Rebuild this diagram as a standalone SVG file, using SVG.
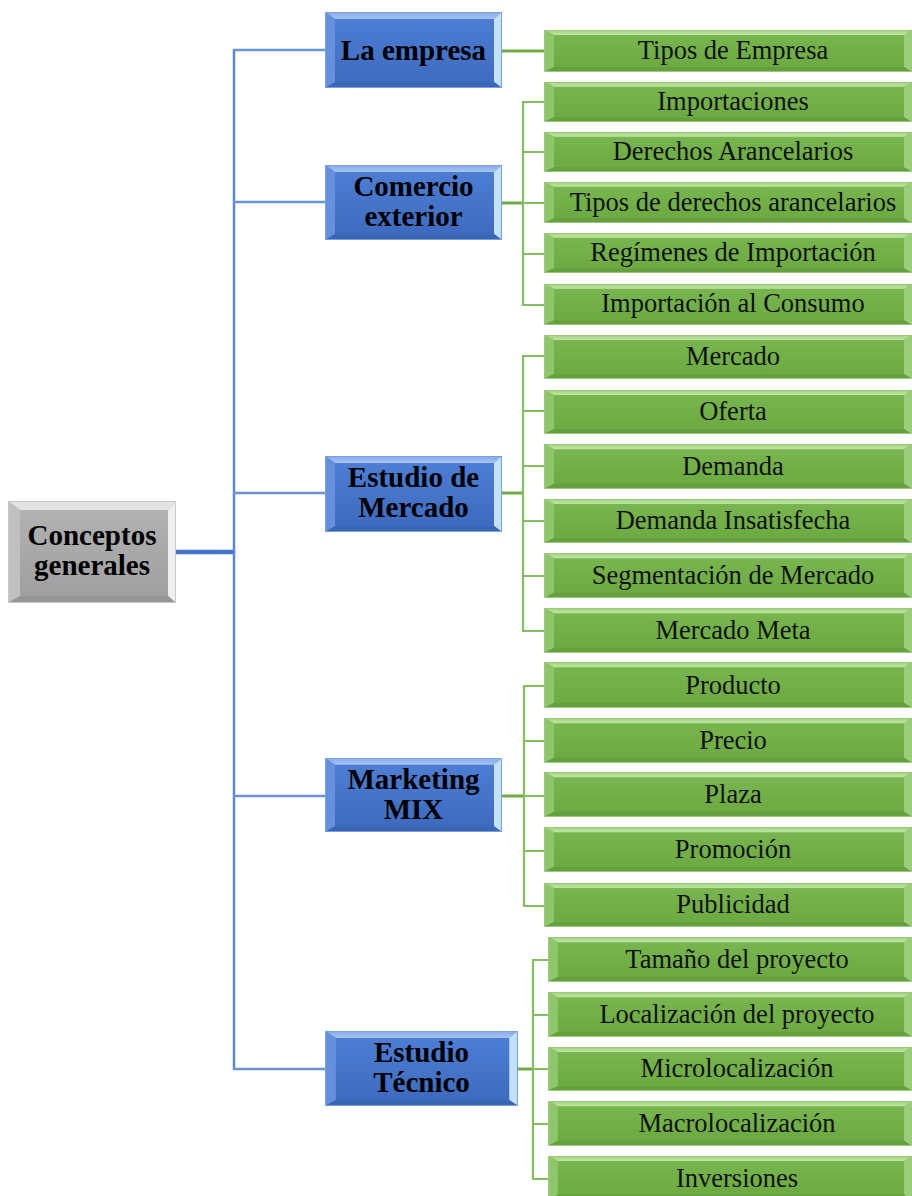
<svg xmlns="http://www.w3.org/2000/svg" xmlns:xlink="http://www.w3.org/1999/xlink" width="912" height="1196" viewBox="0 0 912 1196">
<style>
.tb{font-family:"Liberation Serif","Times New Roman",serif;font-weight:bold;font-size:29px;fill:#000;text-anchor:middle}
.tg{font-family:"Liberation Serif","Times New Roman",serif;font-size:26.5px;fill:#111;text-anchor:middle}
.trunk{stroke:#5a86d4;stroke-width:2.5;fill:none}
.bl{stroke:#6a93db;stroke-width:2.5;fill:none}
.root{stroke:#4472c4;stroke-width:4.5;fill:none}
.gm{stroke:#70ad47;stroke-width:3;fill:none}
.gb{stroke:#86bd62;stroke-width:2.2;fill:none}
</style>
<defs>
<linearGradient id="gGreen" x1="0" y1="0" x2="0" y2="1"><stop offset="0" stop-color="#7ab750"/><stop offset="1" stop-color="#6aa840"/></linearGradient>
<linearGradient id="gBlue" x1="0" y1="0" x2="0" y2="1"><stop offset="0" stop-color="#4e80d6"/><stop offset="1" stop-color="#3c69bd"/></linearGradient>
<linearGradient id="gGray" x1="0" y1="0" x2="0" y2="1"><stop offset="0" stop-color="#b3b3b3"/><stop offset="1" stop-color="#9e9e9e"/></linearGradient>
<linearGradient id="gGreenTop" x1="0" y1="0" x2="0" y2="1"><stop offset="0" stop-color="#a2d17f"/><stop offset="1" stop-color="#c0e6a6"/></linearGradient>
<linearGradient id="gBlueTop" x1="0" y1="0" x2="0" y2="1"><stop offset="0" stop-color="#86a9e8"/><stop offset="1" stop-color="#a6c4f2"/></linearGradient>
<symbol id="nGreen" viewBox="0 0 368 43" preserveAspectRatio="none">
<rect x="0" y="0" width="368" height="43" fill="url(#gGreen)"/>
<polygon points="0,0 368,0 360,5 10,5" fill="url(#gGreenTop)"/>
<polygon points="0,0 10,5 10,38 0,43" fill="#8ec66a"/>
<polygon points="368,0 368,43 360,38 360,5" fill="#9ccd7b"/>
<polygon points="0,43 10,38 360,38 368,43" fill="#66a03e"/>
<rect x="0.5" y="0.5" width="367" height="42" fill="none" stroke="#9acb79" stroke-width="1"/>
</symbol>
<symbol id="nBlue" viewBox="0 0 177 76" preserveAspectRatio="none">
<rect x="0" y="0" width="177" height="76" fill="url(#gBlue)"/>
<polygon points="0,0 177,0 169,7 10,7" fill="url(#gBlueTop)"/>
<polygon points="0,0 10,7 10,70 0,76" fill="#6590dc"/>
<polygon points="177,0 177,76 169,70 169,7" fill="#c4e2f7"/>
<polygon points="0,76 10,70 169,70 177,76" fill="#3a66b6"/>
<rect x="0.5" y="0.5" width="176" height="75" fill="none" stroke="#7aa0e2" stroke-width="1"/>
</symbol>
<symbol id="nGray" viewBox="0 0 168 102" preserveAspectRatio="none">
<rect x="0" y="0" width="168" height="102" fill="url(#gGray)"/>
<polygon points="0,0 168,0 160,9 12,9" fill="#e2e2e2"/>
<polygon points="0,0 12,9 12,95 0,102" fill="#c0c0c0"/>
<polygon points="168,0 168,102 160,95 160,9" fill="#efefef"/>
<polygon points="0,102 12,95 160,95 168,102" fill="#969696"/>
<rect x="0.5" y="0.5" width="167" height="101" fill="none" stroke="#c8c8c8" stroke-width="1"/>
</symbol>
</defs>
<rect width="912" height="1196" fill="#fff"/>

<g id="connectors">
<line class="root" x1="176" y1="552" x2="235" y2="552"/>
<line class="trunk" x1="234" y1="49" x2="234" y2="1070"/>
<line class="bl" x1="233" y1="50" x2="325" y2="50"/>
<line class="bl" x1="233" y1="202" x2="325" y2="202"/>
<line class="bl" x1="233" y1="493" x2="325" y2="493"/>
<line class="bl" x1="233" y1="796" x2="325" y2="796"/>
<line class="bl" x1="233" y1="1069" x2="325" y2="1069"/>

<line class="gm" x1="502" y1="51" x2="544" y2="51"/>

<line class="gm" x1="502" y1="203" x2="524" y2="203"/>
<path class="gb" d="M544,102 H523 V305 H544 M523,152 H544 M523,254 H544 M523,203 H544"/>

<line class="gm" x1="502" y1="493" x2="524" y2="493"/>
<path class="gb" d="M544,356 H523 V631 H544 M523,411 H544 M523,466 H544 M523,521 H544 M523,576 H544"/>

<line class="gm" x1="502" y1="796" x2="525" y2="796"/>
<path class="gb" d="M544,686 H524 V906 H544 M524,741 H544 M524,796 H544 M524,851 H544"/>

<line class="gm" x1="518" y1="1069" x2="534" y2="1069"/>
<path class="gb" d="M548,960 H533 V1179 H548 M533,1015 H548 M533,1069 H548 M533,1124 H548"/>
</g>

<g id="root">
<use href="#nGray" x="8" y="501" width="168" height="102"/>
<text class="tb" x="92" y="545">Conceptos</text>
<text class="tb" x="92" y="575">generales</text>
</g>

<g id="la-empresa">
<use href="#nBlue" x="325" y="12" width="177" height="76"/>
<text class="tb" x="413.5" y="60">La empresa</text>
</g>
<g id="comercio-exterior">
<use href="#nBlue" x="325" y="165" width="177" height="75"/>
<text class="tb" x="413.5" y="196">Comercio</text>
<text class="tb" x="413.5" y="226">exterior</text>
</g>
<g id="estudio-mercado">
<use href="#nBlue" x="325" y="456" width="177" height="76"/>
<text class="tb" x="413.5" y="487">Estudio de</text>
<text class="tb" x="413.5" y="517">Mercado</text>
</g>
<g id="marketing-mix">
<use href="#nBlue" x="325" y="758" width="177" height="74"/>
<text class="tb" x="413.5" y="789">Marketing</text>
<text class="tb" x="413.5" y="819">MIX</text>
</g>
<g id="estudio-tecnico">
<use href="#nBlue" x="325" y="1031" width="193" height="75"/>
<text class="tb" x="421.5" y="1062">Estudio</text>
<text class="tb" x="421.5" y="1092">Técnico</text>
</g>

<g id="tipos-empresa"><use href="#nGreen" x="544" y="30" width="368" height="42"/><text class="tg" x="733" y="59">Tipos de Empresa</text></g>

<g id="importaciones"><use href="#nGreen" x="544" y="82" width="368" height="40"/><text class="tg" x="733" y="110">Importaciones</text></g>
<g id="derechos"><use href="#nGreen" x="544" y="132" width="368" height="40"/><text class="tg" x="733" y="160">Derechos Arancelarios</text></g>
<g id="tipos-derechos"><use href="#nGreen" x="544" y="182" width="368" height="41"/><text class="tg" x="733" y="211">Tipos de derechos arancelarios</text></g>
<g id="regimenes"><use href="#nGreen" x="544" y="233" width="368" height="40"/><text class="tg" x="733" y="261">Regímenes de Importación</text></g>
<g id="importacion-consumo"><use href="#nGreen" x="544" y="284" width="368" height="41"/><text class="tg" x="733" y="312">Importación al Consumo</text></g>

<g id="mercado"><use href="#nGreen" x="544" y="335" width="368" height="44"/><text class="tg" x="733" y="365">Mercado</text></g>
<g id="oferta"><use href="#nGreen" x="544" y="390" width="368" height="44"/><text class="tg" x="733" y="420">Oferta</text></g>
<g id="demanda"><use href="#nGreen" x="544" y="444" width="368" height="45"/><text class="tg" x="733" y="475">Demanda</text></g>
<g id="demanda-insatisfecha"><use href="#nGreen" x="544" y="499" width="368" height="44"/><text class="tg" x="733" y="529">Demanda Insatisfecha</text></g>
<g id="segmentacion"><use href="#nGreen" x="544" y="553" width="368" height="45"/><text class="tg" x="733" y="584">Segmentación de Mercado</text></g>
<g id="mercado-meta"><use href="#nGreen" x="544" y="608" width="368" height="45"/><text class="tg" x="733" y="639">Mercado Meta</text></g>

<g id="producto"><use href="#nGreen" x="544" y="662" width="368" height="46"/><text class="tg" x="733" y="694">Producto</text></g>
<g id="precio"><use href="#nGreen" x="544" y="718" width="368" height="45"/><text class="tg" x="733" y="749">Precio</text></g>
<g id="plaza"><use href="#nGreen" x="544" y="772" width="368" height="45"/><text class="tg" x="733" y="803">Plaza</text></g>
<g id="promocion"><use href="#nGreen" x="544" y="827" width="368" height="45"/><text class="tg" x="733" y="858">Promoción</text></g>
<g id="publicidad"><use href="#nGreen" x="544" y="883" width="368" height="44"/><text class="tg" x="733" y="913">Publicidad</text></g>

<g id="tamano"><use href="#nGreen" x="548" y="937" width="364" height="45"/><text class="tg" x="737" y="968">Tamaño del proyecto</text></g>
<g id="localizacion"><use href="#nGreen" x="548" y="992" width="364" height="45"/><text class="tg" x="737" y="1023">Localización del proyecto</text></g>
<g id="microlocalizacion"><use href="#nGreen" x="548" y="1047" width="364" height="44"/><text class="tg" x="737" y="1077">Microlocalización</text></g>
<g id="macrolocalizacion"><use href="#nGreen" x="548" y="1101" width="364" height="45"/><text class="tg" x="737" y="1132">Macrolocalización</text></g>
<g id="inversiones"><use href="#nGreen" x="548" y="1156" width="364" height="44"/><text class="tg" x="737" y="1187">Inversiones</text></g>
</svg>
